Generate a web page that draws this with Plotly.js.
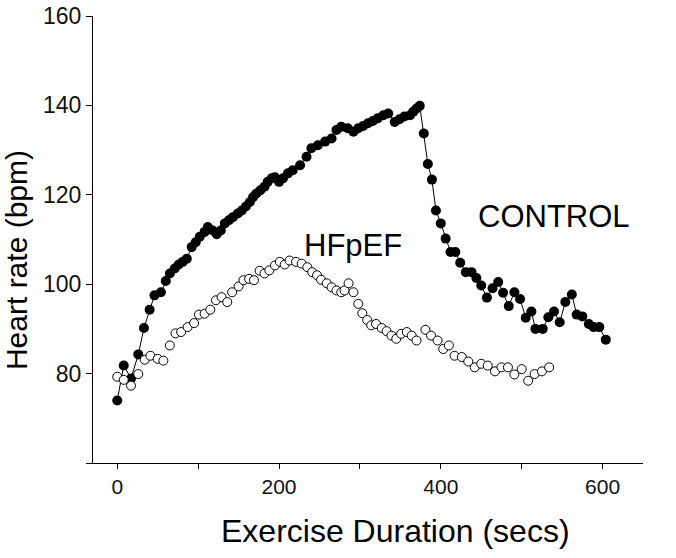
<!DOCTYPE html>
<html>
<head>
<meta charset="utf-8">
<script src="https://cdn.plot.ly/plotly-3.0.1.min.js"></script>
<style>html,body{margin:0;padding:0;background:#fff;}#chart{width:676px;height:558px;}</style>
</head>
<body>
<div id="chart"></div>
<script>
// Control group: time (s) and heart rate (bpm)
const controlTime = [0,8,17,26,33,40,46,54,60,65,71,76,81,86,92,97,102,108,112,118,123,128,133,138,143,149,154,159,164,168,172,177,182,186,191,195,200,205,211,217,226,234,240,248,257,265,271,277,285,292,298,304,310,316,322,329,335,343,349,355,362,366,370,374,379,384,389,394,400,406,412,418,424,431,438,444,450,457,464,471,477,484,491,498,505,512,517,526,533,540,547,554,562,568,575,583,589,596,604];
const controlHR = [74,81.8,78.9,84.3,90.2,94.3,97.5,98.2,100.7,102.4,103.5,104.4,105,105.7,108.3,109.4,110.6,111.7,112.8,112,111.2,112,113.6,114.3,115,115.8,116.5,117.4,118.4,119.5,120.3,121,121.8,122.9,123.7,123.9,122.9,123.7,124.8,125.5,126.6,128.5,130.4,131.1,131.9,132.6,134.5,135.2,134.9,134.1,134.9,135.4,136,136.5,137.1,137.8,138.2,136.3,136.9,137.5,137.8,138.6,139.3,139.9,133.7,126.9,123.4,116.5,113.6,110.2,107.2,107.2,104.8,102.7,102.7,101.4,99.7,97,99.1,100.5,98.1,95.1,98.2,96.7,92.5,93.9,90,90,92.6,93.9,91.5,96,97.7,93.2,92.8,91.1,90.4,90.4,87.6];

// HFpEF group: time (s) and heart rate (bpm)
const hfpefTime = [0,8,17,26,34,41,50,57,65,72,79,87,95,101,108,115,122,129,136,142,150,156,163,169,176,182,188,195,201,207,213,221,228,235,241,247,252,259,265,271,277,281,286,292,298,303,309,314,320,327,333,339,345,351,358,364,370,381,388,396,403,410,417,426,434,442,450,458,467,475,483,491,500,508,516,525,534];
const hfpefHR = [79.3,78.6,77.3,79.9,83.1,84,83.3,82.9,86.3,89,89.3,90.4,91.3,93.2,93.4,94.3,96.4,97.1,96,98.2,99.5,100.9,101.2,100.9,103,102.4,103.1,104.2,105,104.4,105.3,105,104.6,103.8,102.7,102,101,100.2,99.3,98.6,98.2,98.6,100.2,98.2,95.6,93.5,92,90.8,91.1,90.2,89.5,88.5,87.8,88.9,89.3,88.5,87.4,89.8,88.5,87.4,85.5,86.3,84,83.7,82.7,81.4,82.2,81.8,80.5,81.4,81.4,79.8,81,78.4,79.9,80.5,81.4];

const xTickVals = [0,100,200,300,400,500,600];
const xTickText = ['0','','200','','400','','600'];
const yTickVals = [60,80,100,120,140,160];
const yTickText = ['','80','100','120','140','160'];

const FONT = 'Liberation Sans, Arial, Helvetica, sans-serif';

const traces = [
  {
    x: controlTime, y: controlHR, name: 'CONTROL', type: 'scatter', mode: 'lines+markers',
    line: {color: '#000', width: 1},
    marker: {color: '#000', size: 10, line: {width: 0}},
    showlegend: false, hoverinfo: 'x+y'
  },
  {
    x: hfpefTime, y: hfpefHR, name: 'HFpEF', type: 'scatter', mode: 'markers',
    marker: {color: '#fff', size: 9, line: {color: '#000', width: 1}},
    showlegend: false, hoverinfo: 'x+y'
  }
];

const layout = {
  width: 676, height: 558,
  margin: {l: 93, r: 33, t: 16, b: 95, pad: 0},
  paper_bgcolor: '#fff', plot_bgcolor: '#fff',
  font: {family: FONT, color: '#000', size: 20},
  showlegend: false,
  xaxis: {
    range: [-30, 650], showgrid: false, zeroline: false,
    showline: true, linecolor: '#000', linewidth: 1,
    ticks: 'outside', ticklen: 5, tickwidth: 1, tickcolor: '#000',
    tickmode: 'array', tickvals: xTickVals, ticktext: xTickText,
    tickfont: {family: FONT, size: 21, color: '#111'}
  },
  yaxis: {
    range: [60, 160], showgrid: false, zeroline: false,
    showline: true, linecolor: '#000', linewidth: 1,
    ticks: 'outside', ticklen: 6, tickwidth: 1, tickcolor: '#000',
    tickmode: 'array', tickvals: yTickVals, ticktext: yTickText,
    tickfont: {family: FONT, size: 23, color: '#111'}, ticklabelstandoff: 0
  },
  annotations: [
    {text: 'HFpEF', x: 292, y: 108.6, xref: 'x', yref: 'y', showarrow: false,
     xanchor: 'center', yanchor: 'middle', font: {family: FONT, size: 31, color: '#000'}},
    {text: 'CONTROL', x: 539.5, y: 115.1, xref: 'x', yref: 'y', showarrow: false,
     xanchor: 'center', yanchor: 'middle', font: {family: FONT, size: 31, color: '#000'}},
    {text: 'Exercise Duration (secs)', x: 344, y: -0.152, xref: 'x', yref: 'paper', showarrow: false,
     xanchor: 'center', yanchor: 'middle', font: {family: FONT, size: 32, color: '#000'}},
    {text: 'Heart rate (bpm)', x: -0.14, y: 0.454, xref: 'paper', yref: 'paper', showarrow: false,
     textangle: -90, xanchor: 'center', yanchor: 'middle', font: {family: FONT, size: 30, color: '#000'}}
  ]
};

Plotly.newPlot('chart', traces, layout, {staticPlot: true, displayModeBar: false});
</script>
</body>
</html>
